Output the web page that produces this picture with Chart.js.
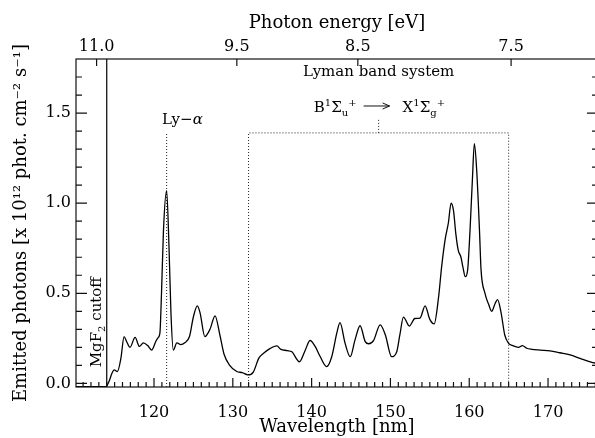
<!DOCTYPE html>
<html>
<head>
<meta charset="utf-8">
<script src="https://cdn.jsdelivr.net/npm/chart.js@4.4.1/dist/chart.umd.min.js"></script>
<style>
  html, body { margin: 0; padding: 0; background: #fff; overflow: hidden; }
  #wrap { width: 600px; height: 438px; }
</style>
</head>
<body>
<div id="wrap"><canvas id="spectrum" width="600" height="438"></canvas></div>
<script>
// H2 emission spectrum: wavelength [nm] and emitted photons [1e12 phot cm^-2 s^-1]
const wavelengths = [
  110.0, 113.9, 114.3, 114.65, 114.95, 115.35, 115.8, 116.2, 116.55, 116.95,
  117.6, 118.15, 118.65, 119.2, 119.7, 120.25, 120.55, 120.75, 120.95, 121.2,
  121.6, 121.9, 122.15, 122.45, 122.9, 123.4, 123.9, 124.5, 125.0, 125.5,
  125.85, 126.45, 127.1, 127.75, 128.35, 128.9, 129.6, 130.5, 131.2, 131.9,
  132.6, 133.3, 133.9, 134.7, 135.6, 136.05, 136.9, 137.5, 138.45, 139.15,
  139.8, 140.45, 141.05, 141.9, 142.55, 143.2, 143.6, 144.25, 144.9, 145.5,
  146.15, 146.8, 147.25, 147.85, 148.7, 149.35, 150.15, 150.8, 151.2, 151.65,
  152.4, 153.1, 153.75, 154.4, 155.0, 155.55, 156.1, 156.5, 156.95, 157.35,
  157.7, 158.0, 158.3, 158.6, 158.95, 159.2, 159.5, 159.8, 160.1, 160.4,
  160.65, 160.95, 161.3, 161.5, 162.0, 162.45, 162.85, 163.3, 163.6, 164.05,
  164.5, 164.95, 165.6, 166.25, 166.75, 167.3, 167.95, 169.0, 170.25, 171.5,
  172.8, 174.05, 175.35, 176.5
];
const photons = [
  -0.018, -0.018, 0.012, 0.055, 0.075, 0.066, 0.14, 0.26, 0.23, 0.2,
  0.255, 0.205, 0.225, 0.21, 0.185, 0.235, 0.255, 0.28, 0.5, 0.85,
  1.07, 0.76, 0.39, 0.185, 0.225, 0.215, 0.225, 0.26, 0.37, 0.43,
  0.39, 0.26, 0.3, 0.375, 0.27, 0.16, 0.1, 0.066, 0.06, 0.047,
  0.063, 0.14, 0.167, 0.193, 0.208, 0.19, 0.182, 0.175, 0.12, 0.18,
  0.238, 0.205, 0.152, 0.093, 0.148, 0.28, 0.337, 0.222, 0.148, 0.24,
  0.32, 0.232, 0.22, 0.237, 0.325, 0.27, 0.148, 0.176, 0.27, 0.368,
  0.318, 0.36, 0.362, 0.43, 0.355, 0.33, 0.475, 0.648, 0.8, 0.89,
  1.0, 0.96, 0.83, 0.74, 0.7, 0.645, 0.592, 0.63, 0.85, 1.13,
  1.33, 1.18, 0.85, 0.63, 0.5, 0.44, 0.4, 0.445, 0.465, 0.39,
  0.27, 0.225, 0.208, 0.2, 0.21, 0.195, 0.189, 0.185, 0.181, 0.17,
  0.158, 0.139, 0.12, 0.108
];

const nmTicks = [120, 130, 140, 150, 160, 170];
const eVTicks = [11.0, 9.5, 8.5, 7.5];
const yTicks = [0.0, 0.5, 1.0, 1.5];

const HC = 1239.84;          // eV * nm
const X_MIN = 110.1, X_MAX = 176.34;
const Y_MIN = -0.02, Y_MAX = 1.8;

// markers
const cutoffNm = 114.0;
const lyAlphaNm = 121.6;
const bandFrom = 132.0, bandTo = 165.0, bandTop = 1.39, bandMid = 148.5, bandMidTop = 1.47;

const SERIF = "'DejaVu Serif', serif";
const tickFont = { family: SERIF, size: 16 };
const titleFont = { family: SERIF, size: 18 };

function xy(xs, ys) {
  return xs.map((v, i) => ({ x: v, y: ys[i] }));
}

function dotted(points) {
  return {
    data: points, borderColor: '#222', borderWidth: 1, borderDash: [1, 2],
    pointRadius: 0, tension: 0, showLine: true
  };
}

// text made of pieces: [text, size, dy, italic]
function drawPieces(ctx, pieces, x, y, align) {
  const widths = pieces.map(p => {
    ctx.font = (p[3] ? 'italic ' : '') + p[1] + 'px ' + SERIF;
    return ctx.measureText(p[0]).width;
  });
  const total = widths.reduce((a, b) => a + b, 0);
  let cx = align === 'center' ? x - total / 2 : align === 'right' ? x - total : x;
  pieces.forEach((p, i) => {
    ctx.font = (p[3] ? 'italic ' : '') + p[1] + 'px ' + SERIF;
    ctx.fillText(p[0], cx, y + p[2]);
    cx += widths[i];
  });
}

const frameTicks = {
  id: 'frameTicks',
  afterDraw(chart) {
    const { ctx, chartArea: a, scales: { x, x2, y } } = chart;
    ctx.save();
    ctx.strokeStyle = '#111';
    ctx.lineWidth = 1.2;
    ctx.strokeRect(a.left, a.top, a.right - a.left, a.bottom - a.top);

    ctx.beginPath();
    // wavelength ticks, minor every nm
    for (let nm = Math.ceil(X_MIN); nm <= X_MAX; nm++) {
      const px = x.getPixelForValue(nm);
      const len = nm % 10 === 0 ? 9 : 5;
      ctx.moveTo(px, a.bottom);
      ctx.lineTo(px, a.bottom - len);
    }
    // energy ticks on top
    eVTicks.forEach(e => {
      const px = x2.getPixelForValue(HC / e);
      ctx.moveTo(px, a.top);
      ctx.lineTo(px, a.top + 7);
    });
    // photon ticks on both sides
    for (let k = 0; k <= 17; k++) {
      const v = k / 10;
      const py = y.getPixelForValue(v);
      const len = k % 5 === 0 ? 11 : 6;
      ctx.moveTo(a.left, py);
      ctx.lineTo(a.left + len, py);
      ctx.moveTo(a.right, py);
      ctx.lineTo(a.right - len, py);
    }
    ctx.stroke();

    ctx.fillStyle = '#000';
    ctx.textBaseline = 'alphabetic';
    ctx.textAlign = 'left';

    // Ly-alpha
    drawPieces(ctx, [['Ly\u2212', 15, 0], ['\u03b1', 15, 0, true]],
      x.getPixelForValue(121.0), y.getPixelForValue(1.44), 'left');

    // band system labels
    const bx = x.getPixelForValue(bandMid);
    drawPieces(ctx, [['Lyman band system', 15, 0]], bx, y.getPixelForValue(1.706), 'center');

    const by = y.getPixelForValue(1.506);
    drawPieces(ctx, [['B', 15, 0], ['1', 10, -6], ['\u03a3', 15, 0], ['u', 10, 4], ['+', 10, -6]],
      bx - 22, by, 'right');
    drawPieces(ctx, [['X', 15, 0], ['1', 10, -6], ['\u03a3', 15, 0], ['g', 10, 4], ['+', 10, -6]],
      bx + 24, by, 'left');
    // arrow
    const ay = by - 6;
    ctx.beginPath();
    ctx.lineWidth = 1;
    ctx.moveTo(bx - 15, ay);
    ctx.lineTo(bx + 11, ay);
    ctx.moveTo(bx + 4, ay - 3);
    ctx.lineTo(bx + 11, ay);
    ctx.lineTo(bx + 4, ay + 3);
    ctx.stroke();

    // MgF2 cutoff, vertical
    ctx.save();
    ctx.translate(x.getPixelForValue(113.27), y.getPixelForValue(0.34));
    ctx.rotate(-Math.PI / 2);
    drawPieces(ctx, [['MgF', 15, 0], ['2', 10, 4], [' cutoff', 15, 0]], 0, 0, 'center');
    ctx.restore();

    ctx.restore();
  }
};

new Chart(document.getElementById('spectrum'), {
  type: 'scatter',
  data: {
    datasets: [
      {
        data: xy(wavelengths, photons),
        showLine: true, borderColor: '#000', borderWidth: 1.3,
        pointRadius: 0, cubicInterpolationMode: 'monotone'
      },
      {
        data: [{ x: cutoffNm, y: Y_MIN }, { x: cutoffNm, y: Y_MAX }],
        showLine: true, borderColor: '#000', borderWidth: 1.2, pointRadius: 0, tension: 0
      },
      dotted([{ x: lyAlphaNm, y: Y_MIN }, { x: lyAlphaNm, y: bandTop }]),
      dotted([{ x: bandFrom, y: Y_MIN }, { x: bandFrom, y: bandTop },
              { x: bandTo, y: bandTop }, { x: bandTo, y: Y_MIN }]),
      dotted([{ x: bandMid, y: bandTop }, { x: bandMid, y: bandMidTop }])
    ]
  },
  options: {
    responsive: false,
    animation: false,
    layout: { padding: { right: 2 } },
    plugins: { legend: { display: false }, tooltip: { enabled: false } },
    scales: {
      x: {
        type: 'linear', position: 'bottom', min: X_MIN, max: X_MAX,
        afterBuildTicks: s => { s.ticks = nmTicks.map(v => ({ value: v })); },
        afterFit: s => { s.height = 51; },
        grid: { display: false, drawTicks: false },
        border: { display: false },
        ticks: { font: tickFont, color: '#000', padding: 16, autoSkip: false, maxRotation: 0,
                 callback: v => String(v) },
        title: { display: true, text: 'Wavelength [nm]', font: titleFont, color: '#000',
                 padding: { top: 0, bottom: 0 } }
      },
      x2: {
        type: 'linear', position: 'top', min: X_MIN, max: X_MAX,
        afterBuildTicks: s => { s.ticks = eVTicks.map(e => ({ value: HC / e })); },
        afterFit: s => { s.height = 59; },
        grid: { display: false, drawTicks: false },
        border: { display: false },
        ticks: { font: tickFont, color: '#000', padding: 3, autoSkip: false, maxRotation: 0,
                 callback: v => (HC / v).toFixed(1) },
        title: { display: true, text: 'Photon energy [eV]', font: titleFont, color: '#000',
                 padding: { top: 13, bottom: 0 } }
      },
      y: {
        type: 'linear', position: 'left', min: Y_MIN, max: Y_MAX,
        afterBuildTicks: s => { s.ticks = yTicks.map(v => ({ value: v })); },
        afterFit: s => { s.width = 76; },
        grid: { display: false, drawTicks: false },
        border: { display: false },
        ticks: { font: tickFont, color: '#000', padding: 5, callback: v => v.toFixed(1) },
        title: { display: true, text: 'Emitted photons [x 10\u00b9\u00b2 phot. cm\u207b\u00b2 s\u207b\u00b9]',
                 font: titleFont, color: '#000', padding: { top: 11, bottom: 0 } }
      }
    }
  },
  plugins: [frameTicks]
});
</script>
</body>
</html>
